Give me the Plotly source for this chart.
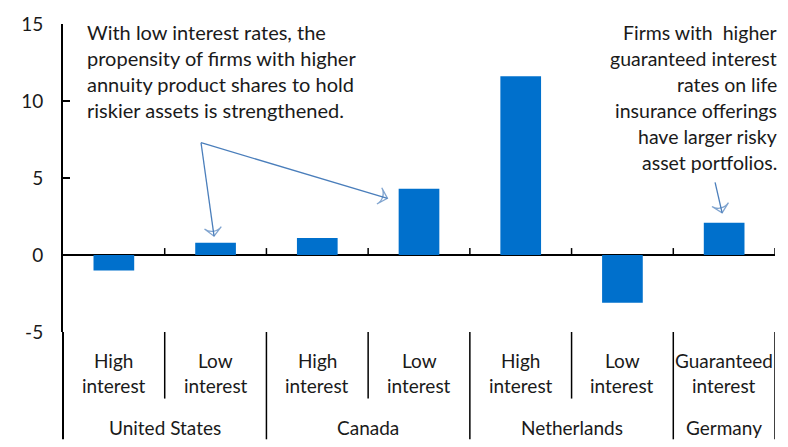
import plotly.graph_objects as go

# Data
countries = ["United States", "Canada", "Netherlands", "Germany"]
country_sizes = [2, 2, 2, 1]
rate_top = ["High", "Low", "High", "Low", "High", "Low", "Guaranteed"]
rate_bottom = ["interest"] * 7
values = [-1.0, 0.8, 1.1, 4.3, 11.6, -3.1, 2.1]
y_ticks = [-5, 0, 5, 10, 15]
y_tick_text = ["-5", "0", "5", "10", "15"]

left_note = [
    "With low interest rates, the",
    "propensity of firms with higher",
    "annuity product shares to hold",
    "riskier assets is strengthened.",
]
right_note = [
    "Firms with\u00a0 higher",
    "guaranteed interest",
    "rates on life",
    "insurance offerings",
    "have larger risky",
    "asset portfolios.",
]

BAR = "#0070CC"
ARROW = "#4A7EBB"
TXT = "#1a1a1a"
FONT = "Lato"

W, H = 788, 447
L, R, T, B = 63, 13, 22, 115
plot_h = H - T - B
plot_w = W - L - R


def py(p):
    """pixel row -> paper y"""
    return (H - B - p) / plot_h


def px(p):
    """pixel column -> paper x"""
    return (p - L) / plot_w


n = len(values)
xs = list(range(n))

fig = go.Figure()
fig.add_trace(go.Bar(x=xs, y=values, width=0.4, marker=dict(color=BAR, line=dict(width=0)),
                     showlegend=False, hoverinfo="skip"))

# arrows (open arrowheads at the end point)
arrow_paths = [
    ([0.857, 0.985], [7.29, 1.22]),
    ([0.857, 2.69], [7.29, 3.68]),
    ([5.911, 5.98], [4.71, 2.74]),
]
for ax_, ay_ in arrow_paths:
    fig.add_trace(go.Scatter(
        x=ax_, y=ay_, mode="lines+markers",
        line=dict(color=ARROW, width=1.3),
        marker=dict(symbol=["circle", "arrow-wide-open"], size=[0, 12], angleref="previous",
                    color=ARROW, line=dict(color=ARROW, width=1.3)),
        showlegend=False, hoverinfo="skip", cliponaxis=False))

shapes = []
# upward ticks on the zero line at category boundaries
for b in [i + 0.5 for i in range(n)]:
    shapes.append(dict(type="line", xref="x", yref="y", x0=b, x1=b, y0=0, y1=0.45,
                       line=dict(color="black", width=1.5)))
# extension of the y axis line below the plot
shapes.append(dict(type="line", xref="paper", yref="paper", x0=0, x1=0, y0=0, y1=py(440),
                   line=dict(color="black", width=2)))
# separators in the category label area
edges = []
pos = -0.5
for s in country_sizes:
    for k in range(1, s):
        edges.append((pos + k, py(399)))
    pos += s
    edges.append((pos, py(440)))
for xb, yb in edges:
    shapes.append(dict(type="line", xref="x", yref="paper", x0=xb, x1=xb, y0=0, y1=yb,
                       line=dict(color="black", width=1.5)))

cat_font = dict(family=FONT, size=19, color=TXT)
annotations = []
for i in range(n):
    annotations.append(dict(x=i, y=py(361), xref="x", yref="paper", text=rate_top[i],
                            xanchor="center", yanchor="middle", showarrow=False, font=cat_font))
    annotations.append(dict(x=i, y=py(386), xref="x", yref="paper", text=rate_bottom[i],
                            xanchor="center", yanchor="middle", showarrow=False, font=cat_font))
pos = -0.5
for c, s in zip(countries, country_sizes):
    annotations.append(dict(x=pos + s / 2, y=py(428), xref="x", yref="paper", text=c,
                            xanchor="center", yanchor="middle", showarrow=False, font=cat_font))
    pos += s

for i, line in enumerate(left_note):
    annotations.append(dict(x=px(85), y=py(30.5 + 26 * i), xref="paper", yref="paper", text=line,
                            xanchor="left", yanchor="middle", showarrow=False,
                            font=dict(family=FONT, size=20, color=TXT)))
for i, line in enumerate(right_note):
    annotations.append(dict(x=px(779), y=py(30.5 + 26.2 * i), xref="paper", yref="paper", text=line,
                            xanchor="right", yanchor="middle", showarrow=False,
                            font=dict(family=FONT, size=19.5, color=TXT)))

fig.update_layout(
    width=W, height=H,
    margin=dict(l=L, r=R, t=T, b=B),
    paper_bgcolor="white", plot_bgcolor="white",
    shapes=shapes, annotations=annotations,
    xaxis=dict(range=[-0.5, n - 0.5], showticklabels=False, showgrid=False, zeroline=False,
               showline=False, ticks=""),
    yaxis=dict(range=[-5, 15], tickvals=y_ticks, ticktext=y_tick_text, showgrid=False,
               zeroline=True, zerolinecolor="black", zerolinewidth=2,
               showline=True, linecolor="black", linewidth=2,
               ticks="inside", ticklen=7, tickwidth=2, tickcolor="black",
               ticklabelstandoff=14,
               tickfont=dict(family=FONT, size=19, color=TXT)),
    bargap=0.6,
)

fig.write_html("out.html")
